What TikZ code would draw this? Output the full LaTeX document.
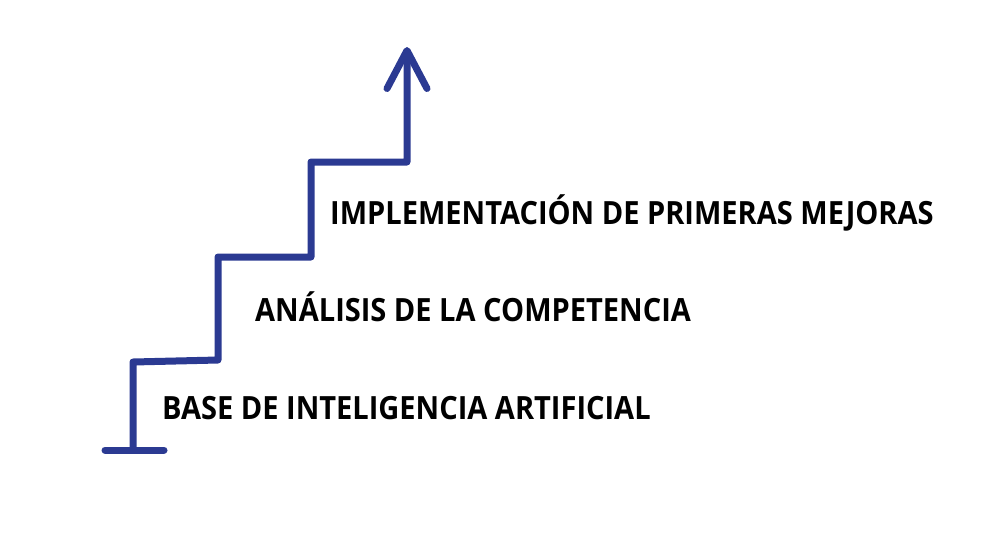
\documentclass[tikz,border=0pt]{standalone}
\usepackage{fontspec}
\setmainfont{Open Sans}
\newfontfamily\stepfont{Open Sans}[FakeStretch=0.907]
\usetikzlibrary{arrows.meta}
\definecolor{stair}{HTML}{2B3A92}

\begin{document}
\begin{tikzpicture}[x=1pt, y=-1pt]
    \useasboundingbox (0,0) rectangle (1000,539);
    \tikzset{step label/.style={anchor=base west, inner sep=0pt, font=\fontsize{32}{38}\stepfont\bfseries}}

    % staircase corners
    \coordinate (foot l) at (105, 450);
    \coordinate (foot r) at (164, 450);
    \coordinate (s0) at (133, 450);
    \coordinate (s1) at (133, 362);
    \coordinate (s2) at (218, 360);
    \coordinate (s3) at (218, 257);
    \coordinate (s4) at (311, 257);
    \coordinate (s5) at (311, 162);
    \coordinate (s6) at (407, 162);
    \coordinate (tip) at (407, 47);

    \draw[stair, line width=7pt, line cap=round] (foot l) -- (foot r);
    \draw[stair, line width=7pt, line join=round,
          -{Straight Barb[length=38pt, width=40pt, round]}]
        (s0) -- (s1) -- (s2) -- (s3) -- (s4) -- (s5) -- (s6) -- (tip);

    \node at (162, 419) (base) [step label] {BASE DE INTELIGENCIA ARTIFICIAL};
    \node at (255, 321) (analisis) [step label] {ANÁLISIS DE LA COMPETENCIA};
    \node at (330, 224) (mejoras) [step label] {IMPLEMENTACIÓN DE PRIMERAS MEJORAS};
\end{tikzpicture}
\end{document}
